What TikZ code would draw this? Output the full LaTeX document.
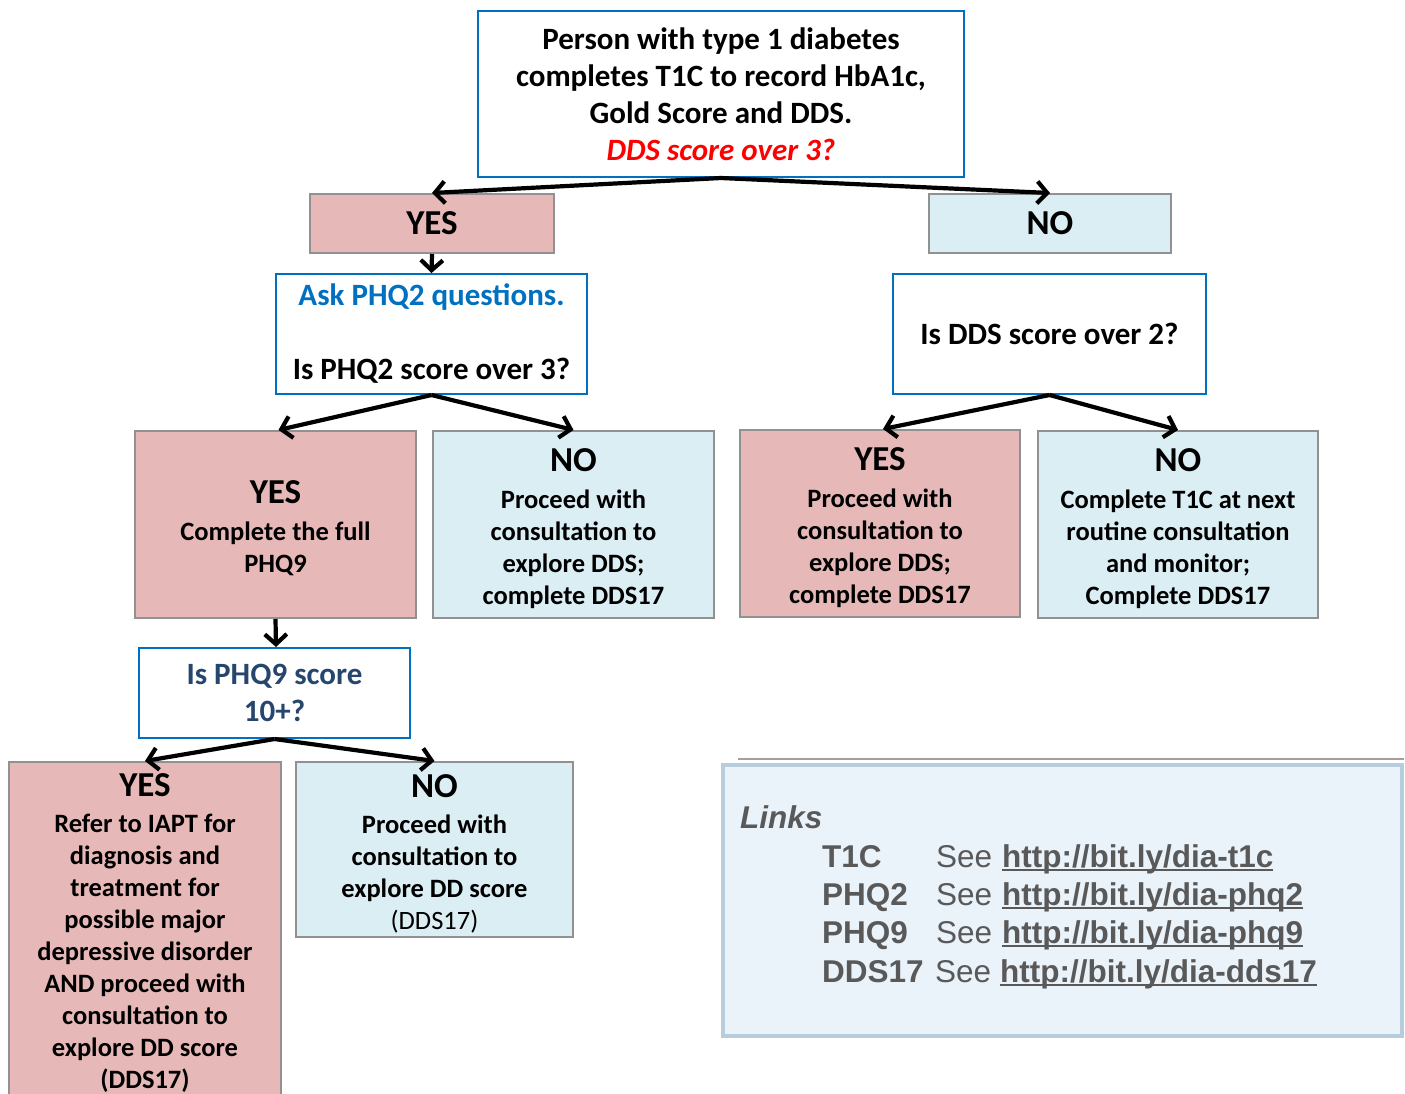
\documentclass[tikz,border=0pt]{standalone}
\usepackage{fontspec}
\setmainfont{Carlito}
\newfontfamily\arialfont{Liberation Sans}
\usetikzlibrary{arrows.meta}
\definecolor{pinkf}{RGB}{230,185,184}
\definecolor{bluef}{RGB}{219,238,243}
\definecolor{grayb}{RGB}{145,145,145}
\definecolor{blueb}{RGB}{0,112,192}
\definecolor{redq}{RGB}{255,0,0}
\definecolor{phqnine}{RGB}{38,70,110}
\definecolor{linkfill}{RGB}{234,242,250}
\definecolor{linkedge}{RGB}{183,205,222}
\definecolor{linkgray}{RGB}{89,89,89}
\newcommand\urlul[1]{\setbox0\hbox{#1}\rlap{\rule[-4pt]{\wd0}{2.2pt}}\box0}
\tikzset{
  basebox/.style={draw, inner sep=0pt, align=center, font=\fontsize{26.5}{32}\selectfont\bfseries},
  pinkbox/.style={basebox, fill=pinkf, draw=grayb, line width=2pt},
  lbluebox/.style={basebox, fill=bluef, draw=grayb, line width=2pt},
  qbox/.style={basebox, fill=white, draw=blueb, line width=2pt, font=\fontsize{31}{37}\selectfont\bfseries},
  arr/.style={-{Straight Barb[length=10pt,width=22pt]}, line width=4.2pt, black},
  linktxt/.style={inner sep=0pt, anchor=base west, text=linkgray, font=\arialfont\fontsize{31.5}{37}\selectfont},
  linkbold/.style={linktxt, font=\arialfont\fontsize{31.5}{37}\selectfont\bfseries},
}
\newcommand\hdr[1]{{\fontsize{35}{37}\selectfont #1}}
\newcommand\hdrs[1]{{\fontsize{35}{37}\selectfont\rule{0pt}{31pt}#1}}
\begin{document}
\begin{tikzpicture}[x=1pt,y=-1pt]
\useasboundingbox (0,0) rectangle (1405,1093);

% top question
\node[qbox, minimum width=486, minimum height=166] (top) at (721,94)
  {Person with type 1 diabetes\\ completes T1C to record HbA1c,\\ Gold Score and DDS.\\ \textcolor{redq}{\itshape DDS score over 3?}};

\node[pinkbox, minimum width=244, minimum height=59] (yes1) at (432,223.5) {\hdr{YES}};
\node[lbluebox, minimum width=242, minimum height=59] (no1) at (1050,223.5) {\hdr{NO}};

\node[qbox, minimum width=311, minimum height=120] (phq2) at (431.5,334)
  {\textcolor{blueb}{Ask PHQ2 questions.}\\[37pt] Is PHQ2 score over 3?};
\node[qbox, minimum width=313, minimum height=120] (dds) at (1049.5,334)
  {Is DDS score over 2?};

\node[pinkbox, minimum width=281, minimum height=187] (yes2) at (275.5,524.5)
  {\hdrs{YES}\\[5pt] Complete the full\\ PHQ9};
\node[lbluebox, minimum width=281, minimum height=187] (no2) at (573.5,524.5)
  {\hdrs{NO}\\[5pt] Proceed with\\ consultation to\\ explore DDS;\\ complete DDS17};
\node[pinkbox, minimum width=280, minimum height=187] (yes3) at (880,523.5)
  {\hdrs{YES}\\[5pt] Proceed with\\ consultation to\\ explore DDS;\\ complete DDS17};
\node[lbluebox, minimum width=280, minimum height=187] (no3) at (1178,524.5)
  {\hdrs{NO}\\[5pt] Complete T1C at next\\ routine consultation\\ and monitor;\\ Complete DDS17};

\node[qbox, minimum width=271, minimum height=90, text=phqnine] (phq9) at (274.5,693)
  {Is PHQ9 score\\ 10+?};

\node[pinkbox, minimum width=272, minimum height=342] (yes4) at (145,933)
  {\hdr{YES}\\[4pt] Refer to IAPT for\\ diagnosis and\\ treatment for\\ possible major\\ depressive disorder\\ AND proceed with\\ consultation to\\ explore DD score\\ (DDS17)};
\node[lbluebox, minimum width=277, minimum height=175] (no4) at (434.5,849.5)
  {\hdrs{NO}\\[4pt] Proceed with\\ consultation to\\ explore DD score\\ {\mdseries (DDS17)}};

% connectors
\draw[arr] (top.south) -- (yes1.north);
\draw[arr] (top.south) -- (no1.north);
\draw[arr] (yes1.south) -- (phq2.north);
\draw[arr] (phq2.south) -- ([xshift=3pt]yes2.north);
\draw[arr] (phq2.south) -- (no2.north);
\draw[arr] (dds.south) -- ([xshift=3pt]yes3.north);
\draw[arr] (dds.south) -- (no3.north);
\draw[arr] (yes2.south) -- ([xshift=1.5pt]phq9.north);
\draw[arr] (phq9.south) -- (yes4.north);
\draw[arr] (phq9.south) -- (no4.north);

% links box
\node[draw=linkedge, fill=linkfill, line width=4pt, minimum width=679, minimum height=271, inner sep=0pt] (links) at (1062.5,900.5) {};
\draw[line width=2pt, draw={rgb,255:red,160;green,160;blue,160}] ([xshift=17pt,yshift=4pt]links.north west) -- ([yshift=4pt]links.north east);
\node[linktxt, font=\arialfont\fontsize{31.5}{37}\selectfont\bfseries\itshape] (ltitle) at (740,828) {Links};
\node[linkbold] (l1) at (822,867) {T1C};
\node[linktxt] (s1) at (936,867) {See};
\node[linkbold] (u1) at (1002,867) {\urlul{http://bit.ly/dia-t1c}};
\node[linkbold] (l2) at (822,905) {PHQ2};
\node[linktxt] (s2) at (936,905) {See};
\node[linkbold] (u2) at (1002,905) {\urlul{http://bit.ly/dia-phq2}};
\node[linkbold] (l3) at (822,943) {PHQ9};
\node[linktxt] (s3) at (936,943) {See};
\node[linkbold] (u3) at (1002,943) {\urlul{http://bit.ly/dia-phq9}};
\node[linkbold] (l4) at (822,982) {DDS17};
\node[linktxt] (s4) at (935,982) {See};
\node[linkbold] (u4) at (1000,982) {\urlul{http://bit.ly/dia-dds17}};
\end{tikzpicture}
\end{document}
